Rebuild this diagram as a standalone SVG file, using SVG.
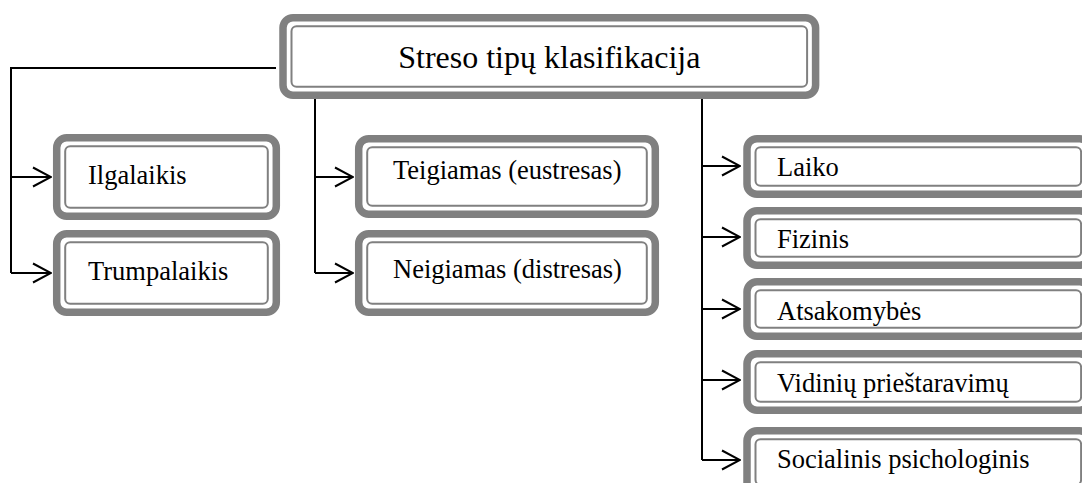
<svg xmlns="http://www.w3.org/2000/svg" width="1082" height="483" viewBox="0 0 1082 483">
  <defs>
    <style>
      .frame { fill: #ffffff; stroke: #808080; stroke-width: 7.5; }
      .inner { fill: #ffffff; stroke: #808080; stroke-width: 2; }
      .lbl { font-family: "Liberation Serif", "Times New Roman", serif; font-size: 26.5px; fill: #000000; }
      .title { font-family: "Liberation Serif", "Times New Roman", serif; font-size: 32px; fill: #000000; text-anchor: middle; }
      .wire { fill: none; stroke: #000000; stroke-width: 2; }
    </style>
    <marker id="chev" viewBox="0 0 20 22" markerWidth="20" markerHeight="22" refX="19" refY="11" orient="auto" markerUnits="userSpaceOnUse">
      <path d="M1,1.5 L19,11 L1,20.5" fill="none" stroke="#000000" stroke-width="2"/>
    </marker>
  </defs>

  <!-- connectors -->
  <g id="connectors">
    <path class="wire" d="M276,68 H11 V273"/>
    <path class="wire" d="M11,177 H51" marker-end="url(#chev)"/>
    <path class="wire" d="M11,273 H51" marker-end="url(#chev)"/>

    <path class="wire" d="M315,99 V273"/>
    <path class="wire" d="M315,177 H353" marker-end="url(#chev)"/>
    <path class="wire" d="M315,273 H353" marker-end="url(#chev)"/>

    <path class="wire" d="M702,99 V460"/>
    <path class="wire" d="M702,166 H740" marker-end="url(#chev)"/>
    <path class="wire" d="M702,237 H740" marker-end="url(#chev)"/>
    <path class="wire" d="M702,309 H740" marker-end="url(#chev)"/>
    <path class="wire" d="M702,380 H740" marker-end="url(#chev)"/>
    <path class="wire" d="M702,460 H740" marker-end="url(#chev)"/>
  </g>

  <!-- root -->
  <g id="root">
    <rect class="frame" x="283" y="17.7" width="532.6" height="77.6" rx="10"/>
    <rect class="inner" x="291.5" y="26.2" width="515.6" height="60.6" rx="5"/>
    <text class="title" x="549.3" y="68">Streso tipų klasifikacija</text>
  </g>

  <!-- duration -->
  <g id="ilgalaikis">
    <rect class="frame" x="56.7" y="137.7" width="219.6" height="78.6" rx="10"/>
    <rect class="inner" x="65.2" y="146.2" width="202.6" height="61.6" rx="5"/>
    <text class="lbl" x="88" y="184">Ilgalaikis</text>
  </g>
  <g id="trumpalaikis">
    <rect class="frame" x="56.7" y="233.7" width="219.6" height="78.6" rx="10"/>
    <rect class="inner" x="65.2" y="242.2" width="202.6" height="61.6" rx="5"/>
    <text class="lbl" x="88" y="280">Trumpalaikis</text>
  </g>

  <!-- effect -->
  <g id="teigiamas">
    <rect class="frame" x="358.7" y="138.7" width="296.6" height="75.6" rx="10"/>
    <rect class="inner" x="367.2" y="147.2" width="279.6" height="58.6" rx="5"/>
    <text class="lbl" x="393" y="179">Teigiamas (eustresas)</text>
  </g>
  <g id="neigiamas">
    <rect class="frame" x="358.7" y="233.7" width="296.6" height="78.6" rx="10"/>
    <rect class="inner" x="367.2" y="242.2" width="279.6" height="61.6" rx="5"/>
    <text class="lbl" x="393" y="278">Neigiamas (distresas)</text>
  </g>

  <!-- source -->
  <g id="laiko">
    <rect class="frame" x="747" y="138.7" width="342.6" height="55.6" rx="10"/>
    <rect class="inner" x="755.5" y="147.2" width="325.6" height="38.6" rx="5"/>
    <text class="lbl" x="777" y="176">Laiko</text>
  </g>
  <g id="fizinis">
    <rect class="frame" x="747" y="210.7" width="342.6" height="54.6" rx="10"/>
    <rect class="inner" x="755.5" y="219.2" width="325.6" height="37.6" rx="5"/>
    <text class="lbl" x="777" y="248">Fizinis</text>
  </g>
  <g id="atsakomybes">
    <rect class="frame" x="747" y="281.7" width="342.6" height="54.6" rx="10"/>
    <rect class="inner" x="755.5" y="290.2" width="325.6" height="37.6" rx="5"/>
    <text class="lbl" x="777" y="320">Atsakomybės</text>
  </g>
  <g id="vidiniu">
    <rect class="frame" x="747" y="353.7" width="342.6" height="56.6" rx="10"/>
    <rect class="inner" x="755.5" y="362.2" width="325.6" height="39.6" rx="5"/>
    <text class="lbl" x="777" y="392">Vidinių prieštaravimų</text>
  </g>
  <g id="socialinis">
    <rect class="frame" x="747" y="430.7" width="342.6" height="62.6" rx="10"/>
    <rect class="inner" x="755.5" y="439.2" width="325.6" height="45.6" rx="5"/>
    <text class="lbl" x="777" y="468">Socialinis psichologinis</text>
  </g>
</svg>
